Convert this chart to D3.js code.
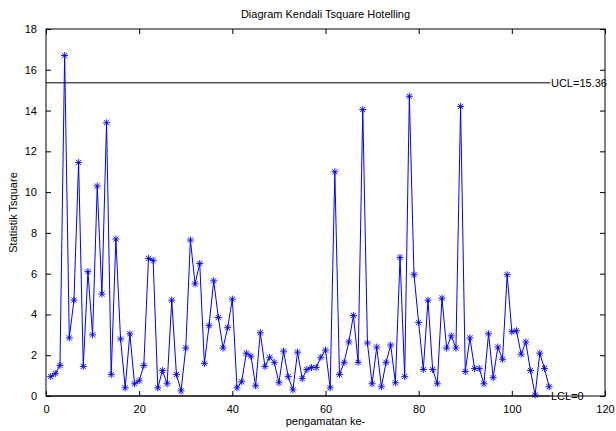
<!DOCTYPE html>
<html>
<head>
<meta charset="utf-8">
<script src="https://cdn.jsdelivr.net/npm/d3@7/dist/d3.min.js"></script>
<style>
  html, body { margin: 0; padding: 0; background: #fff; }
  svg { display: block; font-family: "Liberation Sans", Arial, sans-serif; }
</style>
</head>
<body>
<svg id="chart" width="616" height="431"></svg>
<script>
const title = "Diagram Kendali Tsquare Hotelling";
const xLabel = "pengamatan ke-";
const yLabel = "Statistik Tsquare";
const xTicks = [0, 20, 40, 60, 80, 100, 120];
const yTicks = [0, 2, 4, 6, 8, 10, 12, 14, 16, 18];
const ucl = 15.36;
const lcl = 0;
const tsquare = [
  0.95, 1.1, 1.5, 16.7, 2.85, 4.7, 11.45, 1.45, 6.1, 3.0,
  10.3, 5.0, 13.4, 1.05, 7.7, 2.8, 0.4, 3.05, 0.6, 0.75,
  1.5, 6.75, 6.65, 0.4, 1.25, 0.6, 4.7, 1.05, 0.25, 2.35,
  7.65, 5.5, 6.5, 1.6, 3.45, 5.65, 3.85, 2.35, 3.35, 4.75,
  0.4, 0.7, 2.1, 1.95, 0.5, 3.1, 1.45, 1.9, 1.65, 0.65,
  2.2, 0.95, 0.3, 2.15, 0.85, 1.3, 1.4, 1.4, 1.9, 2.25,
  0.4, 11.0, 1.05, 1.65, 2.65, 3.95, 1.65, 14.05, 2.6, 0.6,
  2.4, 0.45, 1.65, 2.5, 0.65, 6.8, 0.95, 14.7, 5.95, 3.6,
  1.3, 4.7, 1.3, 0.6, 4.8, 2.35, 2.95, 2.35, 14.2, 1.2,
  2.85, 1.35, 1.35, 0.6, 3.05, 0.9, 2.4, 1.8, 5.95, 3.15,
  3.2, 2.05, 2.65, 1.25, 0.05, 2.1, 1.35, 0.45
];

const svg = d3.select("#chart");
const m = { left: 46, right: 605, top: 29, bottom: 396 };
const x = d3.scaleLinear().domain([0, 120]).range([m.left, m.right]);
const y = d3.scaleLinear().domain([0, 18]).range([m.bottom, m.top]);
const tickLen = 5;

// axes box
svg.append("rect")
  .attr("x", m.left).attr("y", m.top)
  .attr("width", m.right - m.left).attr("height", m.bottom - m.top)
  .attr("fill", "#fff");

// x axis bottom
const xAxis = svg.append("g").attr("transform", `translate(0,${m.bottom})`)
  .call(d3.axisBottom(x).tickValues(xTicks).tickSizeInner(-tickLen).tickSizeOuter(0).tickPadding(9));
const xAxisTop = svg.append("g").attr("transform", `translate(0,${m.top})`)
  .call(d3.axisTop(x).tickValues(xTicks).tickSizeInner(-tickLen).tickSizeOuter(0).tickFormat(""));
const yAxis = svg.append("g").attr("transform", `translate(${m.left},0)`)
  .call(d3.axisLeft(y).tickValues(yTicks).tickSizeInner(-tickLen).tickSizeOuter(0).tickPadding(9));
const yAxisR = svg.append("g").attr("transform", `translate(${m.right},0)`)
  .call(d3.axisRight(y).tickValues(yTicks).tickSizeInner(-tickLen).tickSizeOuter(0).tickFormat(""));

[xAxis, xAxisTop, yAxis, yAxisR].forEach(g => {
  g.select(".domain").remove();
  g.selectAll("line").attr("stroke", "#000");
  g.selectAll("text").attr("fill", "#000").style("font-size", "11px")
    .style("font-family", "'Liberation Sans', Arial, sans-serif");
});

// control lines
const lastIdx = tsquare.length;
svg.append("line")
  .attr("x1", x(0)).attr("x2", x(lastIdx + 0.3))
  .attr("y1", y(ucl)).attr("y2", y(ucl))
  .attr("stroke", "#000").attr("stroke-width", 1);
svg.append("line")
  .attr("x1", x(0)).attr("x2", x(lastIdx + 0.3))
  .attr("y1", y(lcl)).attr("y2", y(lcl))
  .attr("stroke", "#000").attr("stroke-width", 1);

// data line
const pts = tsquare.map((v, i) => [i + 1, v]);
const line = d3.line().x(d => x(d[0])).y(d => y(d[1]));
svg.append("path").datum(pts)
  .attr("d", line).attr("fill", "none")
  .attr("stroke", "#0000ff").attr("stroke-width", 1);

// asterisk markers
const r = 3.5, rd = 2.6;
svg.append("g").selectAll("path.mk").data(pts).join("path")
  .attr("class", "mk")
  .attr("d", d => {
    const cx = x(d[0]), cy = y(d[1]);
    return `M${cx - r},${cy}H${cx + r}M${cx},${cy - r}V${cy + r}` +
      `M${cx - rd},${cy - rd}L${cx + rd},${cy + rd}M${cx - rd},${cy + rd}L${cx + rd},${cy - rd}`;
  })
  .attr("stroke", "#0000ff").attr("stroke-width", 0.9).attr("fill", "none");

// box frame
svg.append("rect")
  .attr("x", m.left).attr("y", m.top)
  .attr("width", m.right - m.left).attr("height", m.bottom - m.top)
  .attr("fill", "none").attr("stroke", "#000").attr("stroke-width", 1);

// control labels
svg.append("text").attr("x", x(lastIdx + 0.4)).attr("y", y(ucl) + 4)
  .text("UCL=" + ucl).style("font-size", "11px").attr("fill", "#000");
svg.append("text").attr("x", x(lastIdx + 0.4)).attr("y", y(lcl) + 4)
  .text("LCL=" + lcl).style("font-size", "11px").attr("fill", "#000");

// title and labels
svg.append("text").attr("x", (m.left + m.right) / 2).attr("y", 18)
  .attr("text-anchor", "middle").style("font-size", "11px").text(title);
svg.append("text").attr("x", (m.left + m.right) / 2).attr("y", 425)
  .attr("text-anchor", "middle").style("font-size", "11px").text(xLabel);
svg.append("text")
  .attr("transform", `translate(17,${(m.top + m.bottom) / 2}) rotate(-90)`)
  .attr("text-anchor", "middle").style("font-size", "11px").text(yLabel);
</script>
</body>
</html>
